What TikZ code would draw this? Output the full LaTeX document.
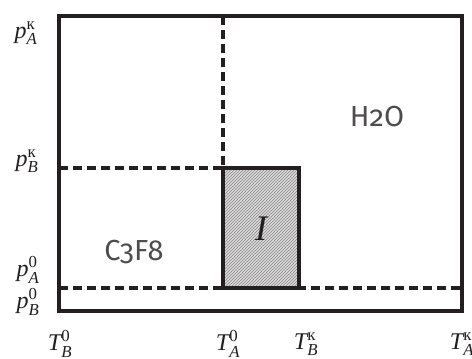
\RequirePackage{fix-cm}
\documentclass[tikz,border=0pt]{standalone}
\usepackage{amsmath}
\usepackage{fontspec}
\usetikzlibrary{patterns}
\newfontfamily\gasfont{Fira Sans}[Numbers=OldStyle]
\newfontfamily\tmfont{Liberation Serif}
% a letter with its phase below and its state above
\newcommand{\stlab}[3]{{\itshape #1}$_{\text{\itshape #2}}^{\text{#3}}$}
\definecolor{c1}{HTML}{231F20}
\definecolor{c2}{HTML}{DCDCDC}

\begin{document}
\begin{tikzpicture}[
    x=1pt, y=-1pt,
    frame/.style={draw=c1, line width=3.6pt},
    bound/.style={draw=c1, line width=3.2pt, dash pattern=on 9pt off 5pt},
    lab/.style={font=\tmfont\fontsize{24}{24}\selectfont, text=c1, inner sep=0pt},
    gas/.style={font=\gasfont\fontsize{29}{29}\selectfont, text=c1!80, inner sep=0pt},
]
\useasboundingbox (0,0) rectangle (472,359);

% ============================================================ corners
\coordinate (bl) at (59,311);
\coordinate (tr) at (462,16);
\coordinate (tl) at (59,16);
\coordinate (xa) at (223,16);
\coordinate (ya) at (59,168);
\coordinate (yb) at (59,288);
\coordinate (yr) at (462,288);

% ============================================================ region I
\fill[c2] (223,168) rectangle (299,288);
\fill[pattern=north east lines, pattern color=c1!55] (223,168) rectangle (299,288);

% the limits of the two phases
\draw[bound] (xa) -- (223,168);
\draw[bound] (ya) -- (223,168);
\draw[bound] (yb) -- (yr);

\draw[frame] (223,168) rectangle (299,288);
\draw[frame] (bl) rectangle (tr);

\node[font=\tmfont\fontsize{36}{36}\selectfont\itshape, text=c1] (one) at (261,229) {I};

% ============================================================ the gases
\node[gas] (ctf) at (134,252) {C3F8};
\node[gas] (water) at (377,117) {H2O};

% ============================================================ pressures
\node[lab] (pak) at (26,33)  {\stlab{p}{A}{к}};
\node[lab] (pbk) at (27,161) {\stlab{p}{B}{к}};
\node[lab] (pa0) at (28,270) {\stlab{p}{A}{0}};
\node[lab] (pb0) at (28,302) {\stlab{p}{B}{0}};

% ============================================================ temperatures
\node[lab] (tb0) at (60,344)  {\stlab{T}{B}{0}};
\node[lab] (ta0) at (228,344) {\stlab{T}{A}{0}};
\node[lab] (tbk) at (306,344) {\stlab{T}{B}{к}};
\node[lab] (tak) at (462,344) {\stlab{T}{A}{к}};

\end{tikzpicture}
\end{document}
